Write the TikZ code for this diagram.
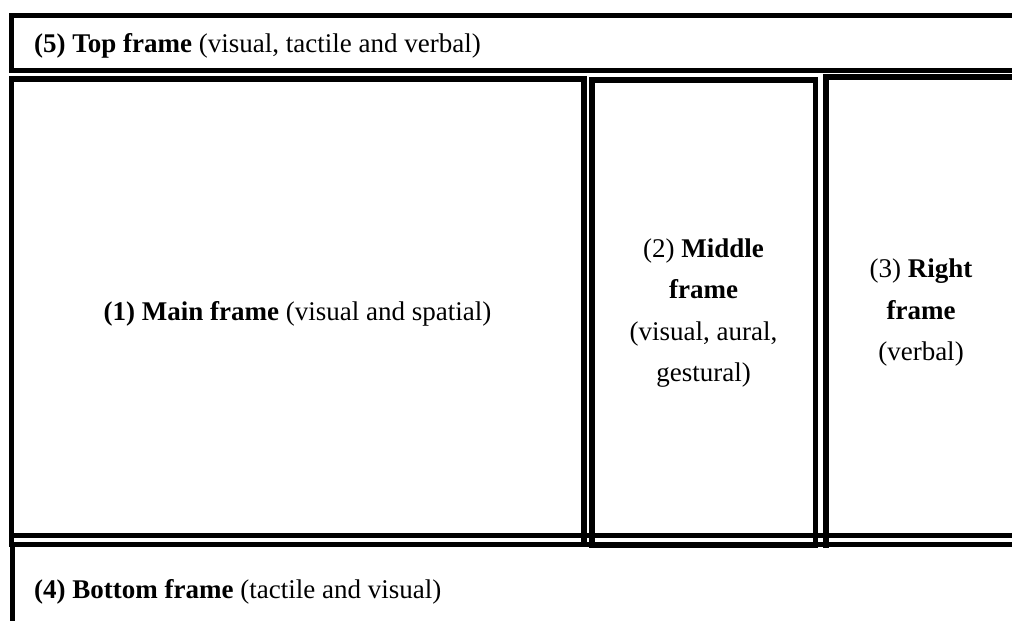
\documentclass[tikz,border=0pt]{standalone}
\usepackage{fontspec}
\setmainfont{Liberation Serif}
\begin{document}
\begin{tikzpicture}[x=1pt,y=-1pt,
  frameline/.style={line width=5.5pt, line cap=rect, line join=miter},
  lbl/.style={inner sep=0pt, font=\fontsize{27}{41.5}\selectfont},
  blk/.style={lbl, align=center}]
\useasboundingbox (0,0) rectangle (1012,621);
\begin{scope}
\clip (0,0) rectangle (1012,621);
% (5) top frame, running off the right edge
\draw[frameline] (1040,15.5) -- (11.5,15.5) -- (11.5,70.5) -- (1040,70.5);
% (1) main frame
\draw[frameline] (11.5,79) -- (584,79) -- (584,544.5);
\draw[frameline] (11.5,79) -- (11.5,544.5);
% (2) middle frame
\draw[frameline] (592,80) rectangle (815.5,545);
% (3) right frame
\draw[frameline] (1040,77) -- (826,77) -- (826,545);
% shared line under the upper frames
\draw[frameline] (11.5,535.5) -- (1040,535.5);
% (4) bottom frame, running off the right and lower edges
\draw[frameline] (1040,544.5) -- (12.5,544.5) -- (12.5,640);
\end{scope}
\node[lbl, anchor=base west] (top) at (34,52) {\textbf{(5) Top frame} (visual, tactile and verbal)};
\node[lbl, anchor=base] (main) at (297.5,320) {\textbf{(1) Main frame} (visual and spatial)};
\node[blk] (middle) at (703.5,313) {(2) \textbf{Middle}\\\textbf{frame}\\(visual, aural,\\gestural)};
\node[blk] (right) at (921,313) {(3) \textbf{Right}\\\textbf{frame}\\(verbal)};
\node[lbl, anchor=base west] (bottom) at (34,598) {\textbf{(4) Bottom frame} (tactile and visual)};
\end{tikzpicture}
\end{document}
